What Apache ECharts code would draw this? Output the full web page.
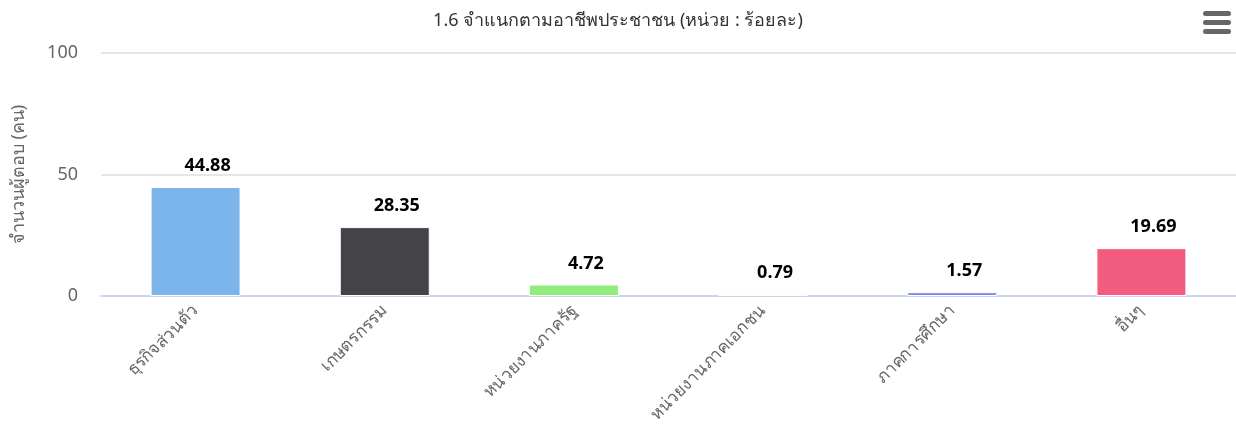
<!DOCTYPE html>
<html>
<head>
<meta charset="utf-8">
<style>
	html,body{ margin:0; padding:0; background:#fff;}
	#mainBox{ width:1236px; height:437px;}
</style>
</head>
<body>
<div id="mainBox"></div>
<script src="https://cdn.jsdelivr.net/npm/echarts@6/dist/echarts.min.js"></script>
<script>
var titleText='1.6 จำแนกตามอาชีพประชาชน (หน่วย : ร้อยละ)';
var yName='จำนวนผู้ตอบ (คน)';
var categories=['ธุรกิจส่วนตัว','เกษตรกรรม','หน่วยงานภาครัฐ','หน่วยงานภาคเอกชน','ภาคการศึกษา','อื่นๆ'];
var values=[44.88,28.35,4.72,0.79,1.57,19.69];
var colors=['#7cb5ec','#434348','#90ed7d','#f7a35c','#8085e9','#f15c80'];
var yTicks=[0,50,100];

var font='"Noto Sans", "DejaVu Sans", sans-serif';
var myChart=echarts.init(document.getElementById('mainBox'));

var barData=[];
for(var i in values){
	barData.push({value:values[i],itemStyle:{color:colors[i]}});
}

var op={
	animation:false,
	title:{
		text:titleText,left:'center',top:7,
		textStyle:{fontFamily:font,fontSize:18,fontWeight:'normal',color:'#333'}
	},
	grid:{left:101,right:0,top:53,bottom:141,containLabel:false,outerBoundsMode:'none'},
	xAxis:{
		type:'category',data:categories,
		axisLine:{lineStyle:{color:'#ccd6eb',width:2}},
		axisTick:{show:false},
		axisLabel:{rotate:45,fontFamily:font,fontSize:17,color:'#666',margin:12,interval:0}
	},
	yAxis:{
		type:'value',min:yTicks[0],max:yTicks[yTicks.length-1],interval:50,
		name:yName,nameLocation:'middle',nameGap:73,
		nameTextStyle:{fontFamily:font,fontSize:18,color:'#666'},
		axisLine:{show:false},axisTick:{show:false},
		axisLabel:{fontFamily:font,fontSize:18,color:'#666',margin:23},
		splitLine:{lineStyle:{color:'#e6e6e6',width:2}}
	},
	series:[{
		type:'bar',data:barData,barWidth:90,
		itemStyle:{borderColor:'#fff',borderWidth:1},
		label:{
			show:true,position:'top',distance:12,offset:[12,0],
			fontFamily:font,fontSize:18,fontWeight:'bold',color:'#000'
		}
	}],
	graphic:[
		{type:'rect',left:1203,top:11,shape:{width:28,height:5,r:2.5},style:{fill:'#666'}},
		{type:'rect',left:1203,top:20,shape:{width:28,height:5,r:2.5},style:{fill:'#666'}},
		{type:'rect',left:1203,top:29,shape:{width:28,height:5,r:2.5},style:{fill:'#666'}}
	]
};
myChart.setOption(op);
</script>
</body>
</html>
